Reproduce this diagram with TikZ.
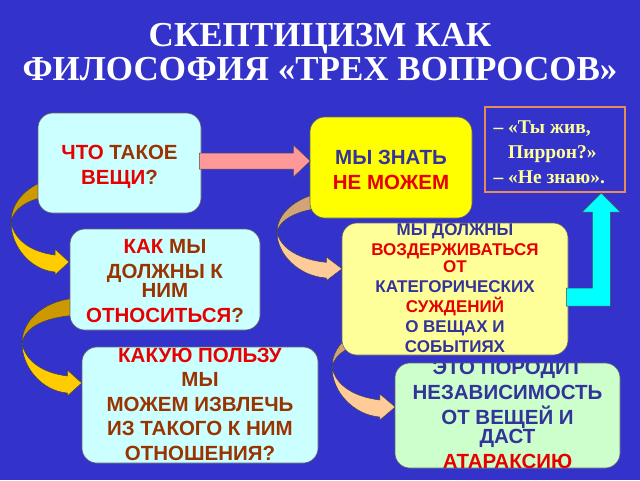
\documentclass[tikz,border=0pt]{standalone}
\usepackage{fontspec}
\setmainfont{Liberation Serif}
\setsansfont{Liberation Sans}
\usetikzlibrary{calc}
\definecolor{slide}{RGB}{51,51,204}
\definecolor{paleaqua}{RGB}{204,255,255}
\definecolor{lemon}{RGB}{255,255,0}
\definecolor{cream}{RGB}{255,255,153}
\definecolor{mint}{RGB}{204,255,204}
\definecolor{txtred}{RGB}{230,0,0}
\definecolor{txtbrown}{RGB}{153,51,0}
\definecolor{txtnavy}{RGB}{51,51,153}
\definecolor{goldback}{RGB}{204,153,0}
\definecolor{goldfront}{RGB}{255,204,0}
\definecolor{tanback}{RGB}{210,165,120}
\definecolor{peach}{RGB}{255,204,153}
\definecolor{salmon}{RGB}{255,153,153}
\definecolor{aqua}{RGB}{0,255,255}
\definecolor{frameorange}{RGB}{230,140,90}
\tikzset{box/.style={draw=black!60, line width=0.6pt, rounded corners=15pt, inner sep=0pt},
         bigtext/.style={font=\sffamily\bfseries\fontsize{20.5}{25}\selectfont, align=center, inner sep=0pt},
         smalltext/.style={font=\sffamily\bfseries\fontsize{17}{20}\selectfont, align=center, inner sep=0pt},
         blockarrow/.style={draw=black!70, line width=0.5pt},
         pics/twist/.style 2 args={code={
           \filldraw[#1, draw=black!75, line width=0.5pt] (0,0) .. controls (0,-25) and (25,-44) .. (55,-45)
             -- (55,-28) .. controls (20,-26) and (3,-15) .. (0,0) -- cycle;
           \filldraw[#2, draw=black!75, line width=0.5pt] (0,0) .. controls (0,25) and (20,48) .. (44,50)
             -- (44,53) -- (58,40) -- (44,27) -- (44,33) .. controls (20,30) and (3,18) .. (0,0) -- cycle;
         }},
        }
\begin{document}
\begin{tikzpicture}[x=1pt, y=-1pt]
        \fill[slide] (0,0) rectangle (640,480);
        \useasboundingbox (0,0) rectangle (640,480);

        \node[font=\bfseries\fontsize{35}{34}\selectfont, text=white, align=center] (title) at (320,52)
             {СКЕПТИЦИЗМ КАК\\ФИЛОСОФИЯ «ТРЕХ ВОПРОСОВ»};

        \pic at (11,222) {twist={goldback}{goldfront}};
        \pic[xscale=1.03] at (22,343) {twist={goldback}{goldfront}};
        \pic[xscale=1.12, yscale=0.92] at (277,232) {twist={tanback}{peach}};
        \pic[xscale=1.09] at (332,367) {twist={tanback}{peach}};

        \node[box, fill=paleaqua, minimum width=163pt, minimum height=100pt](what)at(119.5,163){};
        \node[box, fill=lemon, minimum width=162pt, minimum height=101pt](cant)at(391,167.5){};
        \node[box, fill=paleaqua, minimum width=190pt, minimum height=101pt](how)at(165,279.5){};
        \node[box, fill=cream, minimum width=226pt, minimum height=132pt](refrain)at(455,289){};
        \node[box, fill=paleaqua, minimum width=236pt, minimum height=116pt](use)at(200,405){};
        \node[box, fill=mint, minimum width=225pt, minimum height=105pt](calm)at(507.5,415.5){};
        \node[draw=frameorange, line width=2.5pt, fill=slide, minimum width=140pt, minimum height=85pt](reply)at(555,149.5){};

        \draw[blockarrow, fill=salmon] (what.east) ++(-2,-10) -- ++(94,0) -- ++(0,-8) -- ++(17,16)
             -- ++(-17,16) -- ++(0,-8) -- ++(-94,0) -- cycle;
        \draw[blockarrow, fill=aqua] (refrain.east) ++(-2,-1) -- ++(26,0) -- ++(0,-76) -- ++(-10,0)
             -- ++(19,-19) -- ++(19,19) -- ++(-10,0) -- ++(0,94) -- ++(-44,0) -- cycle;

        \node[bigtext, text=txtbrown](whattxt)at(119.5,167){{\color{txtred}ЧТО} ТАКОЕ\\{\color{txtred}ВЕЩИ}?};
        \node[bigtext, text=txtnavy](canttxt)at(391,170){МЫ ЗНАТЬ\\{\color{txtred}НЕ МОЖЕМ}};
        \node[bigtext, text=txtbrown](howtxt)at(165,281){{\color{txtred}КАК} МЫ\\ДОЛЖНЫ К\\[-6pt]НИМ\\{\color{txtred}ОТНОСИТЬСЯ}?};
        \begin{scope}
            \clip[rounded corners=15pt] (refrain.south west) rectangle (refrain.north east);
            \node[smalltext, text=txtnavy](refraintxt)at(455,288){МЫ ДОЛЖНЫ\\{\color{txtred}ВОЗДЕРЖИВАТЬСЯ}\\[-3pt]{\color{txtred}ОТ}\\КАТЕГОРИЧЕСКИХ\\{\color{txtred}СУЖДЕНИЙ}\\О ВЕЩАХ И\\СОБЫТИЯХ};
        \end{scope}
        \begin{scope}
            \clip[rounded corners=15pt] (use.south west) rectangle (use.north east);
            \node[bigtext, text=txtbrown, font=\sffamily\bfseries\fontsize{20.5}{24.5}\selectfont](usetxt)at(200,404){{\color{txtred}КАКУЮ ПОЛЬЗУ}\\МЫ\\МОЖЕМ ИЗВЛЕЧЬ\\ИЗ ТАКОГО К НИМ\\ОТНОШЕНИЯ?};
        \end{scope}
        \begin{scope}
            \clip[rounded corners=15pt] (calm.south west) rectangle (calm.north east);
            \node[bigtext, text=txtnavy](calmtxt)at(507.5,414){ЭТО ПОРОДИТ\\НЕЗАВИСИМОСТЬ\\ОТ ВЕЩЕЙ И\\[-6pt]ДАСТ\\{\color{txtred}АТАРАКСИЮ}};
        \end{scope}
        \node[font=\bfseries\fontsize{19.5}{25}\selectfont, text=cream, align=left, anchor=west](replytxt)at(490,152)
             {– «Ты жив,\\\phantom{– }Пиррон?»\\– «Не знаю».};
\end{tikzpicture}
\end{document}
